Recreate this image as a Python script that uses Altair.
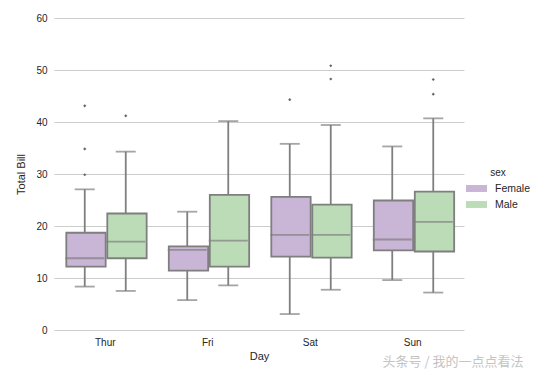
import altair as alt
import pandas as pd

days = ["Thur", "Fri", "Sat", "Sun"]
sexes = ["Female", "Male"]

female_low = [8.35, 5.75, 3.07, 9.6]
female_q1 = [12.2, 11.4, 14.1, 15.3]
female_med = [13.8, 15.4, 18.3, 17.4]
female_q3 = [18.7, 16.1, 25.6, 24.9]
female_high = [27.05, 22.75, 35.8, 35.3]

male_low = [7.51, 8.58, 7.74, 7.2]
male_q1 = [13.8, 12.2, 13.9, 15.1]
male_med = [17.0, 17.2, 18.3, 20.8]
male_q3 = [22.4, 26.0, 24.1, 26.6]
male_high = [34.3, 40.17, 39.42, 40.7]

out_day = ["Thur", "Thur", "Thur", "Thur", "Sat", "Sat", "Sat", "Sun", "Sun"]
out_sex = ["Female", "Female", "Female", "Male", "Female", "Male", "Male", "Male", "Male"]
out_val = [43.11, 34.83, 29.85, 41.19, 44.3, 50.81, 48.27, 48.17, 45.35]

watermark = ["头条号 / 我的一点点看法"]

rows = []
for s, lo, q1, md, q3, hi in [
    ("Female", female_low, female_q1, female_med, female_q3, female_high),
    ("Male", male_low, male_q1, male_med, male_q3, male_high),
]:
    for i, d in enumerate(days):
        rows.append(dict(day=d, sex=s, low=lo[i], q1=q1[i], med=md[i], q3=q3[i], high=hi[i]))
box = pd.DataFrame(rows)
outl = pd.DataFrame({"day": out_day, "sex": out_sex, "val": out_val})

GREY = "#7f7f7f"
FONT = "Liberation Sans"
LW = 1.8

x = alt.X("day:N", sort=days,
          scale=alt.Scale(paddingInner=0, paddingOuter=0),
          axis=alt.Axis(title="Day", labelAngle=0, grid=False, domain=False, ticks=False,
                        labelPadding=7, labelFontSize=10, labelColor="#262626",
                        titleFontSize=11, titleFontWeight="normal", titleColor="#262626",
                        titlePadding=3, labelFont=FONT, titleFont=FONT))
xo = alt.XOffset("sex:N", sort=sexes, scale=alt.Scale(paddingInner=0, paddingOuter=0.25))
yscale = alt.Scale(domain=[0, 60], nice=False, zero=False)
yaxis = alt.Axis(title="Total Bill", values=list(range(0, 61, 10)), grid=True, gridColor="#cccccc",
                 gridWidth=1, domain=False, ticks=False, labelPadding=7, labelFontSize=10,
                 labelColor="#262626", titleFontSize=11, titleFontWeight="normal",
                 titleColor="#262626", titlePadding=9, labelFont=FONT, titleFont=FONT)

base = alt.Chart(box)

wh_lo = base.mark_rule(color=GREY, strokeWidth=LW).encode(
    x=x, xOffset=xo, y=alt.Y("low:Q", scale=yscale, axis=yaxis), y2="q1:Q")
wh_hi = base.mark_rule(color=GREY, strokeWidth=LW).encode(
    x=x, xOffset=xo, y=alt.Y("q3:Q", scale=yscale), y2="high:Q")
cap_lo = base.mark_tick(color=GREY, thickness=LW, size=20).encode(
    x=x, xOffset=xo, y=alt.Y("low:Q", scale=yscale))
cap_hi = base.mark_tick(color=GREY, thickness=LW, size=20).encode(
    x=x, xOffset=xo, y=alt.Y("high:Q", scale=yscale))
boxes = base.mark_bar(stroke=GREY, strokeWidth=LW, width=alt.RelativeBandSize(0.96)).encode(
    x=x, xOffset=xo, y=alt.Y("q1:Q", scale=yscale), y2="q3:Q",
    color=alt.Color("sex:N", scale=alt.Scale(domain=sexes, range=["#c9b5d6", "#bcdcb8"]),
                    legend=alt.Legend(orient="none", legendX=412, legendY=150, title="sex",
                                      titleFontSize=10, titleFontWeight="normal",
                                      titleColor="#262626", labelColor="#262626",
                                      labelFontSize=10.5, titleFont=FONT, labelFont=FONT,
                                      symbolType="M-1,-0.33H1V0.33H-1Z", symbolSize=441,
                                      symbolStrokeWidth=0, symbolOpacity=1,
                                      labelOffset=8, rowPadding=-5, titleAnchor="middle",
                                      titlePadding=0)))
meds = base.mark_tick(color=GREY, thickness=LW, size=39).encode(
    x=x, xOffset=xo, y=alt.Y("med:Q", scale=yscale))
pts = alt.Chart(outl).mark_point(shape="diamond", filled=True, size=10, color="#666666", opacity=1).encode(
    x=x, xOffset=xo, y=alt.Y("val:Q", scale=yscale))
wm = alt.Chart(pd.DataFrame({"t": watermark})).mark_text(
    font="Noto Sans CJK SC", fontSize=13, color="#c4c4c4", align="center", baseline="middle"
).encode(x=alt.value(399), y=alt.value(344), text="t:N")

chart = alt.layer(wh_lo, wh_hi, boxes, meds, cap_lo, cap_hi, pts, wm).properties(
    width=410, height=312,
    autosize=alt.AutoSizeParams(type="none"),
    padding={"left": 54, "top": 18, "right": 75, "bottom": 45},
    background="white",
).configure_view(stroke=None)

chart.save("out.html", embed_options={"renderer": "svg", "actions": False})
